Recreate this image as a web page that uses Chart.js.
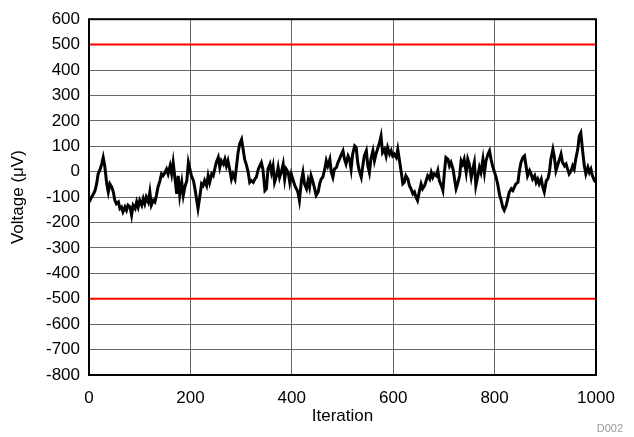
<!DOCTYPE html>
<html>
<head>
<meta charset="utf-8">
<script src="https://cdn.jsdelivr.net/npm/chart.js@4/dist/chart.umd.min.js"></script>
<style>
  html, body { margin: 0; padding: 0; background: #fff; }
  canvas { display: block; }
</style>
</head>
<body>
<canvas id="voltageChart" width="634" height="437"></canvas>
<script>
// values
const iterations = [
  0, 2, 5, 9, 12, 15, 18, 22, 25, 28, 31, 35, 38, 41, 45, 48, 51, 54, 58, 61,
  64, 67, 71, 74, 77, 81, 84, 87, 91, 94, 97, 100, 104, 107, 110, 113, 117, 120, 123, 127,
  130, 133, 136, 140, 143, 146, 150, 153, 156,
  160, 163, 166, 169, 173, 176, 179, 183, 186, 189, 193, 196, 199, 202, 206, 209, 212, 215, 219, 222,
  225, 228, 232, 235, 238, 242, 245, 248, 251, 255, 258, 261, 265, 268, 271, 274, 278, 281, 284, 288,
  291, 294, 297, 301, 304, 307, 311, 314, 317, 320, 324,
  327, 330, 334, 337, 340, 343, 347, 350, 353, 357, 360, 363, 366, 370, 373, 376, 380, 383, 386, 389,
  393, 396, 399, 402, 406, 409, 412, 415, 419, 422, 425, 429, 432, 435, 438, 442, 445, 448, 452, 455,
  458, 461, 465, 468, 471, 475, 478, 481, 484, 488, 491,
  494, 498, 501, 504, 507, 511, 514, 517, 520, 524, 527, 530, 533, 537, 540, 543, 547, 550, 553, 556,
  560, 563, 566, 570, 573, 576, 579, 583, 586, 589, 593, 596, 599, 602, 606, 609, 612, 616, 619, 622,
  625, 629, 632, 635, 639, 642, 645, 648, 652, 655, 658,
  662, 665, 668, 672, 675, 678, 681, 685, 688, 691, 695, 698, 701, 704, 708, 711, 714, 718, 721, 724,
  727, 731, 734, 737, 740, 744, 747, 750, 754, 757, 760, 763, 767, 770, 773, 777, 780, 783, 787, 790,
  793, 796, 800, 803, 806, 810, 813, 816, 819, 823, 826,
  829, 833, 836, 839, 842, 846, 849, 852, 856, 859, 862, 865, 869, 872, 875, 879, 882, 885, 888, 892,
  895, 898, 902, 905, 908, 911, 915, 918, 921, 925, 928, 931, 934, 938, 941, 944, 947, 951, 954, 957,
  960, 964, 967, 970, 974, 977, 980, 984, 987, 990, 993, 997, 1000
];

const voltages = [
  -110, -113, -100, -87, -74, -48, -9, 10, 30, 56, 23, -48, -80, -48, -61, -80, -113, -126, -119, -145,
  -139, -158, -139, -152, -132, -139, -171, -132, -145, -119, -139, -113, -132, -106, -126, -100, -119, -80, -132, -113,
  -119, -93, -61, -35, -9, -16, -3, 10, -9,
  23, -9, 36, -16, -87, -16, -93, -42, -93, -61, -35, 36, 10, -16, -35, -67, -106, -145, -93, -48,
  -55, -35, -55, -16, -42, -9, -16, 10, 36, 56, 17, 43, 30, 49, 23, 43, 4, -29, -9, -29,
  23, 75, 108, 127, 88, 49, 23, -3, -42, -35, -42,
  -29, -22, 10, 23, 36, 10, -74, -67, 10, 30, -3, 23, -42, -16, 17, -22, 4, 30, -29, 10,
  -3, -42, -9, -29, -55, -67, -80, -113, -35, -3, -48, -67, -35, -61, -16, -42, -67, -93, -80, -48,
  -29, -22, 10, 43, 23, 49, -3, -22, 10, 17, 36,
  49, 69, 82, 49, 30, 62, 49, 10, 69, 101, 95, 36, 4, -22, 23, 62, 82, 23, -3, 49,
  82, 43, 69, 95, 114, 140, 75, 88, 62, 95, 69, 82, 62, 69, 56, 88, 49, -3, -48, -42,
  -16, -29, -55, -67, -87, -80, -100, -113, -74, -48, -67,
  -55, -35, -16, -29, -3, -22, -9, -16, 4, -35, -55, -74, -3, 56, 49, 23, 36, 10, -29, -67,
  -48, -16, 43, 30, 49, -3, 49, 30, -22, 10, 36, -55, -16, 17, -3, 49, -3, 43, 69, 82,
  49, 23, -3, -22, -48, -93, -113, -139, -152, -132, -106,
  -80, -67, -74, -61, -48, -42, 4, 36, 56, 62, 23, -16, 4, -9, -29, -16, -42, -29, -48, -29,
  -61, -80, -35, -29, -3, 49, 88, 56, 4, 30, 49, 69, 36, 23, 30, 10, -9, 4, 23, 10,
  49, 88, 140, 153, 75, 23, -9, 17, -3, 10, -16, -35, -42
];

const limitLevels = [500, -500];
const xTicks = [0, 200, 400, 600, 800, 1000];
const yTicks = [600, 500, 400, 300, 200, 100, 0, -100, -200, -300, -400, -500, -600, -700, -800];

const FONT = "'Liberation Sans', Arial, sans-serif";

// black frame round the plot area
const plotFrame = {
  id: 'plotFrame',
  afterDatasetsDraw(chart) {
    const { ctx, chartArea: a } = chart;
    ctx.save();
    ctx.strokeStyle = '#000';
    ctx.lineWidth = 2;
    ctx.strokeRect(a.left, a.top, a.right - a.left, a.bottom - a.top);
    ctx.restore();
  }
};

// small figure id in the bottom right corner
const figureId = {
  id: 'figureId',
  afterDraw(chart) {
    const { ctx } = chart;
    ctx.save();
    ctx.fillStyle = '#999';
    ctx.font = '11px ' + FONT;
    ctx.textAlign = 'right';
    ctx.textBaseline = 'middle';
    ctx.fillText('D002', 623, 429);
    ctx.restore();
  }
};

const trace = iterations.map((it, i) => ({ x: it, y: voltages[i] }));
const limitSets = limitLevels.map(v => ({
  data: [{ x: xTicks[0], y: v }, { x: xTicks[xTicks.length - 1], y: v }],
  borderColor: '#ff0000',
  borderWidth: 2,
  pointRadius: 0
}));

new Chart(document.getElementById('voltageChart'), {
  type: 'line',
  data: {
    datasets: [
      ...limitSets,
      { data: trace, borderColor: '#000', borderWidth: 3, pointRadius: 0, tension: 0 }
    ]
  },
  options: {
    responsive: false,
    animation: false,
    events: [],
    layout: { padding: { left: 0, right: 38, top: 15, bottom: 0 } },
    plugins: { legend: { display: false }, tooltip: { enabled: false } },
    scales: {
      x: {
        type: 'linear',
        min: xTicks[0],
        max: xTicks[xTicks.length - 1],
        afterBuildTicks: s => { s.ticks = xTicks.map(v => ({ value: v })); },
        afterFit: s => { s.height = 62; },
        grid: { color: '#666', lineWidth: 1, tickLength: 0 },
        border: { display: false },
        ticks: { color: '#000', font: { family: FONT, size: 17 }, padding: 13, maxRotation: 0, autoSkip: false,
                 callback: v => String(v) },
        title: { display: true, text: 'Iteration', color: '#000', font: { family: FONT, size: 17 }, padding: { top: 0, bottom: 10 } }
      },
      y: {
        min: yTicks[yTicks.length - 1],
        max: yTicks[0],
        afterBuildTicks: s => { s.ticks = yTicks.slice().reverse().map(v => ({ value: v })); },
        afterFit: s => { s.width = 89; },
        grid: { color: '#666', lineWidth: 1, tickLength: 0 },
        border: { display: false },
        ticks: { color: '#000', font: { family: FONT, size: 17 }, padding: 9, autoSkip: false,
                 callback: v => String(v) },
        title: { display: true, text: 'Voltage (μV)', color: '#000', font: { family: FONT, size: 17 }, padding: { top: 8, bottom: 0 } }
      }
    }
  },
  plugins: [plotFrame, figureId]
});
</script>
</body>
</html>
